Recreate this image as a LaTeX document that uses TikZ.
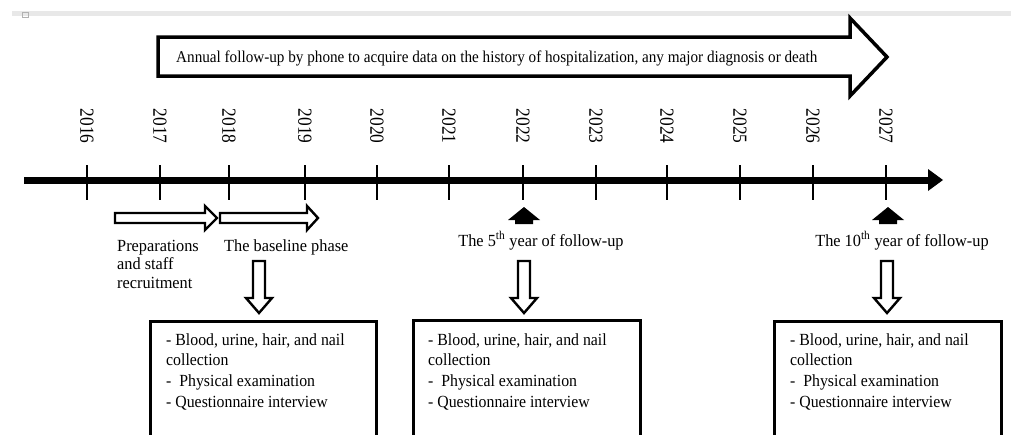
\documentclass[tikz,border=0pt]{standalone}
\usepackage{fontspec}
\setmainfont{Liberation Serif}
\newfontfamily\topfont[FakeStretch=0.92]{Liberation Serif}
\newfontfamily\boxfont[FakeStretch=0.93]{Liberation Serif}
\newfontfamily\lblfont[FakeStretch=0.96]{Liberation Serif}
\newfontfamily\yrfont[FakeStretch=0.87]{Liberation Serif}
\begin{document}
\begin{tikzpicture}[x=1pt,y=-1pt,
  yearlbl/.style={rotate=-90,font=\yrfont\fontsize{20}{20}\selectfont,inner sep=0pt},
  lbl/.style={font=\lblfont\fontsize{17}{18.5}\selectfont,inner sep=0pt,align=left},
  boxtxt/.style={font=\boxfont\fontsize{17}{20.8}\selectfont,inner sep=0pt,align=left},
  infobox/.style={draw,line width=3pt,inner sep=0pt,minimum width=226pt,minimum height=140pt,anchor=north west},
  hollow/.style={draw,line width=2.4pt,fill=white,line join=miter},
  tick/.style={line width=1.3pt},
  solidup/.style={fill=black}]
\useasboundingbox (0,0) rectangle (1011,434);
\clip (0,0) rectangle (1011,434);
% top grey strip
\fill[gray!18] (12,11) rectangle (1011,16);
\draw[gray!60,line width=0.6pt] (22,12) rectangle (28,17);
% big annual arrow
\draw[line width=3.5pt,line join=miter,fill=white]
  (158,37) -- (850,37) -- (850,18) -- (887,57) -- (850,96) -- (850,76) -- (158,76) -- cycle;
\node[anchor=base west,inner sep=0pt,font=\topfont\fontsize{16.5}{17}\selectfont] (annual) at (176,62)
  {Annual follow-up by phone to acquire data on the history of hospitalization, any major diagnosis or death};
% axis
\coordinate (axstart) at (24,180);
\coordinate (axend) at (930,180);
\draw[line width=7pt] (axstart) -- (axend);
\fill (928,169) -- (943,180) -- (928,191) -- cycle;
% years
\foreach \yr/\xx in {2016/87,2017/160,2018/229,2019/305,2020/377,2021/449,2022/523,2023/596,2024/667,2025/740,2026/813,2027/886}{
  \coordinate (t\yr) at (\xx,180);
  \draw[tick] (\xx,165) -- (\xx,200);
  \node[yearlbl] (y\yr) at (\xx,126) {\yr};
}
% small hollow arrows
\draw[hollow] (115,213) -- (205,213) -- (205,206) -- (217,218) -- (205,230) -- (205,223) -- (115,223) -- cycle;
\draw[hollow] (220,213) -- (307,213) -- (307,206) -- (318,218) -- (307,230) -- (307,223) -- (220,223) -- cycle;
% labels
\node[lbl,anchor=north west] (prep) at (117,240) {Preparations\\and staff\\recruitment};
\node[lbl,anchor=base west] (base) at (224,251) {The baseline phase};
\node[lbl,anchor=base] (fifth) at (541,246) {The 5\textsuperscript{th} year of follow-up};
\node[lbl,anchor=base] (tenth) at (902,246) {The 10\textsuperscript{th} year of follow-up};
% solid up arrows
\foreach \cx in {524,888}{
  \fill[solidup] (\cx,207) -- (\cx+16,220) -- (\cx+9,220) -- (\cx+9,224) -- (\cx-9,224) -- (\cx-9,220) -- (\cx-16,220) -- cycle;
}
% down hollow arrows
\foreach \cx in {259,524,887}{
  \draw[hollow] (\cx-6,261) -- (\cx+6,261) -- (\cx+6,298) -- (\cx+13,298) -- (\cx,313) -- (\cx-13,298) -- (\cx-6,298) -- cycle;
}
% boxes
\node[infobox] (box1) at (149,320) {};
\node[infobox,minimum width=227pt] (box2) at (412,319) {};
\node[infobox,minimum width=227pt] (box3) at (773,320) {};
\foreach \b/\xx in {1/166,2/428,3/790}{
  \node[boxtxt,anchor=north west] (txt\b) at (\xx,333)
   {- Blood, urine, hair, and nail\\collection\\-\ \ Physical examination\\- Questionnaire interview};
}
\end{tikzpicture}
\end{document}
